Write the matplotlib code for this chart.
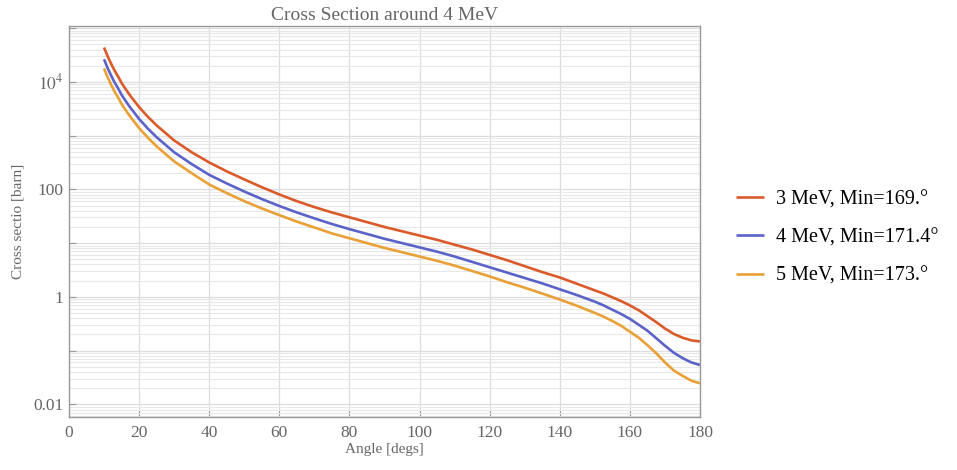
import matplotlib
matplotlib.use("Agg")
import matplotlib.pyplot as plt
import numpy as np
from matplotlib.ticker import FixedLocator, LogLocator, NullFormatter

plt.rcParams["font.family"] = ["Liberation Serif", "DejaVu Serif"]
plt.rcParams["mathtext.fontset"] = "stix"

# angle in degrees; log10 of the cross section in barn
angle = [10, 11, 12, 13, 14, 15, 16, 17.5, 20, 22.5, 25, 27.5, 30, 35, 40, 45,
         50, 55, 60, 65, 70, 75, 80, 85, 90, 95, 100, 105, 110, 115, 120, 125,
         130, 135, 140, 145, 150, 152.5, 155, 157.5, 160, 162.5, 165, 167.5,
         170, 172.5, 175, 177.5, 180]
log_cs_3mev = [4.64, 4.48, 4.34, 4.21, 4.10, 3.98, 3.88, 3.74, 3.53, 3.35, 3.19,
               3.05, 2.91, 2.69, 2.50, 2.335, 2.185, 2.04, 1.905, 1.78, 1.67, 1.57,
               1.48, 1.39, 1.30, 1.22, 1.14, 1.06, 0.97, 0.88, 0.78, 0.68, 0.57,
               0.46, 0.36, 0.24, 0.12, 0.06, -0.01, -0.08, -0.16, -0.25, -0.36,
               -0.47, -0.59, -0.69, -0.76, -0.81, -0.83]
log_cs_4mev = [4.42, 4.26, 4.12, 3.99, 3.88, 3.76, 3.66, 3.52, 3.31, 3.13, 2.97,
               2.83, 2.69, 2.47, 2.27, 2.11, 1.96, 1.82, 1.69, 1.57, 1.46, 1.355,
               1.26, 1.17, 1.08, 1.00, 0.92, 0.84, 0.75, 0.65, 0.55, 0.45, 0.35,
               0.25, 0.14, 0.03, -0.09, -0.16, -0.24, -0.32, -0.41, -0.52, -0.63,
               -0.77, -0.91, -1.04, -1.14, -1.22, -1.27]
log_cs_5mev = [4.25, 4.09, 3.95, 3.82, 3.71, 3.59, 3.49, 3.35, 3.14, 2.96, 2.80,
               2.66, 2.52, 2.30, 2.09, 1.93, 1.78, 1.645, 1.52, 1.40, 1.29, 1.18,
               1.09, 1.00, 0.91, 0.83, 0.75, 0.67, 0.58, 0.48, 0.38, 0.27, 0.17,
               0.06, -0.05, -0.17, -0.30, -0.37, -0.45, -0.54, -0.65, -0.76, -0.90,
               -1.05, -1.22, -1.37, -1.47, -1.56, -1.61]
labels = ["3 MeV, Min=169.°", "4 MeV, Min=171.4°", "5 MeV, Min=173.°"]
colors = ["#DA5A2A", "#5B63C9", "#E9A036"]

GREY = "#666666"

fig = plt.figure(figsize=(9.57, 4.70), dpi=100)
ax = fig.add_axes([0.0721, 0.1128, 0.6594, 0.8319])

for ys, lab, c in zip([log_cs_3mev, log_cs_4mev, log_cs_5mev], labels, colors):
    ax.plot(angle, 10 ** np.array(ys), color=c, lw=1.9, label=lab,
            solid_capstyle="butt", solid_joinstyle="round")

ax.set_yscale("log")
ax.set_xlim(0, 180)
ax.set_ylim(10 ** -2.236, 10 ** 5.04)

ax.set_xticks(range(0, 181, 20))
yt = [1e-2, 1e-1, 1, 10, 100, 1e3, 1e4, 1e5]
ax.yaxis.set_major_locator(FixedLocator(yt))
ax.yaxis.set_minor_locator(LogLocator(base=10, subs=range(2, 10), numticks=20))
ax.yaxis.set_minor_formatter(NullFormatter())
ylabels = {1e-2: "0.01", 1: "1", 100: "100", 1e4: "$10^4$"}
ax.set_yticklabels([ylabels.get(v, "") for v in yt])

ax.grid(True, which="major", axis="both", color="#dddddd", lw=0.9)
ax.grid(True, which="minor", axis="y", color="#e8e8e8", lw=0.8)
ax.set_axisbelow(True)

for s in ax.spines.values():
    s.set_color("#999999")
    s.set_linewidth(1.0)
ax.tick_params(which="major", direction="in", length=5, color="#999999",
               labelcolor=GREY, labelsize=12.5, pad=4)
ax.tick_params(which="minor", length=0)
ax.tick_params(axis="x", pad=6)

ax.set_xlabel("Angle [degs]", color=GREY, fontsize=11, labelpad=1)
ax.set_ylabel("Cross sectio [barn]", color=GREY, fontsize=11, labelpad=6)
ax.set_title("Cross Section around 4 MeV", color=GREY, fontsize=14, pad=4)

fig.legend(loc="center left", bbox_to_anchor=(0.750, 0.494), frameon=False,
           fontsize=14.5, handlelength=1.4, handletextpad=0.6, labelspacing=0.95)

fig.savefig("out.png", dpi=100)
